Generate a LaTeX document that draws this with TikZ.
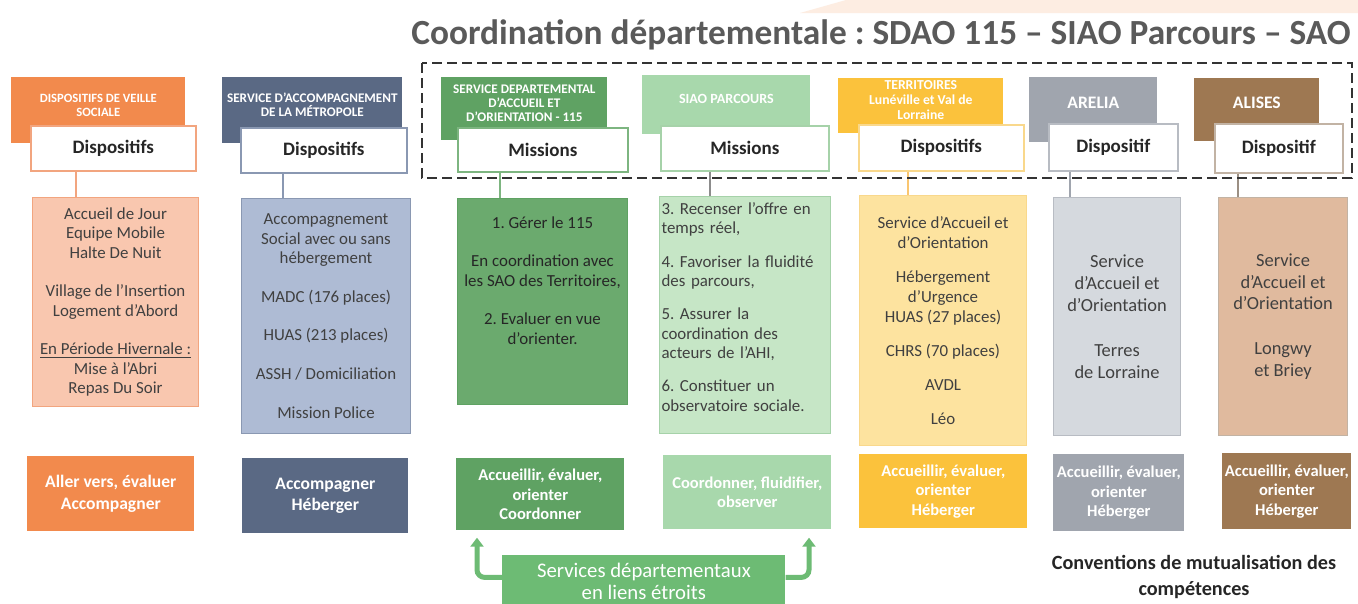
\documentclass[tikz,border=0pt]{standalone}
\usepackage{fontspec}
\setmainfont{Carlito}
\usetikzlibrary{positioning, calc, arrows.meta}
\frenchspacing

\definecolor{veilleOr}{HTML}{F28A4D}
\definecolor{veilleBd}{HTML}{F2A57F}
\definecolor{veilleFl}{HTML}{F9C7AF}
\definecolor{metroSl}{HTML}{5A6984}
\definecolor{metroBd}{HTML}{8A98B2}
\definecolor{metroFl}{HTML}{AEBBD4}
\definecolor{sdaoGr}{HTML}{5FA263}
\definecolor{sdaoBd}{HTML}{7DB580}
\definecolor{sdaoFl}{HTML}{6BAA6E}
\definecolor{siaoGr}{HTML}{A8D8AC}
\definecolor{siaoBd}{HTML}{A6D2A9}
\definecolor{siaoFl}{HTML}{C6E6C6}
\definecolor{terrYe}{HTML}{FBC23C}
\definecolor{terrBd}{HTML}{F9D88C}
\definecolor{terrFl}{HTML}{FDE39F}
\definecolor{areliaGy}{HTML}{A0A5AE}
\definecolor{areliaBd}{HTML}{B8BCC3}
\definecolor{areliaFl}{HTML}{D5D9DE}
\definecolor{alisesBr}{HTML}{9E7852}
\definecolor{alisesBd}{HTML}{C2B3A4}
\definecolor{alisesFl}{HTML}{E0BA9E}
\definecolor{linkGr}{HTML}{6DBB74}
\definecolor{titleGy}{HTML}{5A5A5A}
\definecolor{peachBg}{HTML}{FDEDE2}

\begin{document}
\begin{tikzpicture}[
        x=0.2mm, y=-0.2mm,
        head/.style={anchor=north west, inner sep=0pt, fill=#1},
        headtxt/.style={text=white, font=\bfseries\fontsize{7.2}{8}\selectfont, align=center, inner sep=0pt},
        tag/.style={anchor=north west, draw=#1, fill=white, line width=0.9pt, inner sep=0pt,
            font=\bfseries\fontsize{10.8}{13}\selectfont, text=black!85},
        body/.style 2 args={anchor=north west, draw=#1, fill=#2, line width=0.6pt, inner sep=0pt,
            font=\fontsize{9.6}{11}\selectfont, text=black!75, align=center},
        listtxt/.style={inner sep=0pt, font=\fontsize{9.6}{11}\selectfont, text=black!75},
        goal/.style={anchor=north west, fill=#1, inner sep=0pt, text=white,
            font=\bfseries\fontsize{9.4}{11}\selectfont, align=center},
        drop/.style={draw=#1, line width=0.6pt},
        linkarrow/.style={draw=linkGr, line width=1mm, rounded corners=1.5mm,
            -{Triangle[width=2.6mm, length=1.8mm]}},
        coordframe/.style={draw=black!80, line width=0.55mm, dash pattern=on 2mm off 1mm},
    ]
        \useasboundingbox[fill=white] (0,0) rectangle (1358,604);
        \fill[peachBg] (846,0) -- (1358,0) -- (1358,13) -- (800,13) -- cycle;

        % Title
        \node[text=titleGy, font=\bfseries\fontsize{20.1}{24}\selectfont] (title) at (881,35)
            {Coordination départementale : SDAO 115 – SIAO Parcours – SAO};

        % Headers
        \node[head=veilleOr, minimum width=34.8mm, minimum height=13.2mm] (vsHead) at (11,77) {};
        \node[head=metroSl, minimum width=36mm, minimum height=13.2mm] (samHead) at (222,77) {};
        \node[head=sdaoGr, minimum width=33.2mm, minimum height=12.6mm] (sdaoHead) at (441,77) {};
        \node[head=siaoGr, minimum width=33.6mm, minimum height=11.8mm] (siaoHead) at (642,75) {};
        \node[head=terrYe, minimum width=33mm, minimum height=11mm] (terrHead) at (838,78) {};
        \node[head=areliaGy, minimum width=25.6mm, minimum height=13mm] (areliaHead) at (1029,77) {};
        \node[head=alisesBr, minimum width=25mm, minimum height=12.6mm] (alisesHead) at (1194,78) {};

        \node[headtxt] (vsHeadTxt) at ($(vsHead.north)+(0,28)$) {DISPOSITIFS DE VEILLE\\SOCIALE};
        \node[headtxt, font=\bfseries\fontsize{7.5}{8}\selectfont] (samHeadTxt) at ($(samHead.north)+(0,28)$)
            {SERVICE D’ACCOMPAGNEMENT\\DE LA MÉTROPOLE};
        \node[headtxt, font=\bfseries\fontsize{7.5}{8}\selectfont] (sdaoHeadTxt) at ($(sdaoHead.north)+(0,26)$)
            {SERVICE DEPARTEMENTAL\\D’ACCUEIL ET\\D’ORIENTATION - 115};
        \node[headtxt, font=\bfseries\fontsize{8}{9}\selectfont] (siaoHeadTxt) at ($(siaoHead.north)+(0,24)$) {SIAO PARCOURS};
        \node[headtxt, font=\bfseries\fontsize{7.8}{8.5}\selectfont] (terrHeadTxt) at ($(terrHead.north)+(0,22)$)
            {TERRITOIRES\\Lunéville et Val de\\Lorraine};
        \node[headtxt, font=\bfseries\fontsize{10}{11}\selectfont] (areliaHeadTxt) at ($(areliaHead.north)+(0,26)$) {ARELIA};
        \node[headtxt, font=\bfseries\fontsize{10}{11}\selectfont] (alisesHeadTxt) at ($(alisesHead.north)+(0,25)$) {ALISES};

        % White tags
        \node[tag=veilleBd, minimum width=33mm, minimum height=9mm] (vsTag) at (30,125) {Dispositifs};
        \node[tag=metroBd, minimum width=33.2mm, minimum height=9mm] (samTag) at (240,127) {Dispositifs};
        \node[tag=sdaoBd, minimum width=34mm, minimum height=8.8mm] (sdaoTag) at (457,127) {Missions};
        \node[tag=siaoBd, minimum width=33.6mm, minimum height=9mm] (siaoTag) at (660,125) {Missions};
        \node[tag=terrBd, minimum width=33mm, minimum height=9.2mm] (terrTag) at (858,124) {Dispositifs};
        \node[tag=areliaBd, minimum width=25.8mm, minimum height=9.4mm] (areliaTag) at (1048,123) {Dispositif};
        \node[tag=alisesBd, minimum width=25.6mm, minimum height=9.8mm] (alisesTag) at (1214,123) {Dispositif};

        % Content boxes
        \node[body={veilleBd}{veilleFl}, minimum width=33.2mm, minimum height=41.8mm] (vsBody) at (32,197)
            {Accueil de Jour\\Equipe Mobile\\Halte De Nuit\\[11pt]Village de l’Insertion\\Logement d’Abord\\[11pt]
             \underline{En Période Hivernale :}\\Mise à l’Abri\\Repas Du Soir};
        \node[body={metroBd}{metroFl}, minimum width=33.8mm, minimum height=47mm] (samBody) at (241,198)
            {Accompagnement\\Social avec ou sans\\hébergement\\[11pt]MADC (176 places)\\[11pt]HUAS (213 places)\\[11pt]
             ASSH / Domiciliation\\[11pt]Mission Police};
        \node[body={sdaoGr}{sdaoFl}, minimum width=34mm, minimum height=41.2mm] (sdaoBody) at (457,198) {};
        \node[listtxt, align=center, text=black!85, below=3.6mm of sdaoBody.north] (sdaoList)
            {1. Gérer le 115\\[11pt]En coordination avec\\les SAO des Territoires,\\[11pt]2. Evaluer en vue\\d’orienter.};
        \node[body={siaoBd}{siaoFl}, minimum width=34.2mm, minimum height=47.4mm] (siaoBody) at (659,196) {};
        \node[listtxt, align=left, text width=33.4mm] (siaoList) at ($(siaoBody.center)+(0,-8)$)
            {3. Recenser l’offre en\\temps réel,\\[8pt]4. Favoriser la fluidité\\des parcours,\\[8pt]5. Assurer la\\
             coordination des\\acteurs de l’AHI,\\[8pt]6. Constituer un\\observatoire sociale.};
        \node[body={terrBd}{terrFl}, minimum width=33.4mm, minimum height=50mm, font=\fontsize{9.6}{11.3}\selectfont]
            (terrBody) at (859,195)
            {Service d’Accueil et\\d’Orientation\\[8pt]Hébergement\\d’Urgence\\HUAS (27 places)\\[8pt]
             CHRS (70 places)\\[8pt]AVDL\\[8pt]Léo};
        \node[body={areliaBd}{areliaFl}, minimum width=25.4mm, minimum height=47.6mm, font=\fontsize{10.5}{12.5}\selectfont]
            (areliaBody) at (1053,197)
            {Service\\d’Accueil et\\d’Orientation\\[13pt]Terres\\de Lorraine};
        \node[body={alisesBd}{alisesFl}, minimum width=25.8mm, minimum height=47.6mm, font=\fontsize{10.5}{12.5}\selectfont]
            (alisesBody) at (1218,197)
            {Service\\d’Accueil et\\d’Orientation\\[13pt]Longwy\\et Briey};

        % Drop lines
        \coordinate (vsDrop) at ($(vsTag.south west)+(46,0)$);
        \coordinate (samDrop) at ($(samTag.south west)+(43,0)$);
        \coordinate (sdaoDrop) at ($(sdaoTag.south west)+(43,0)$);
        \coordinate (siaoDrop) at ($(siaoTag.south west)+(50,0)$);
        \coordinate (terrDrop) at ($(terrTag.south west)+(50,0)$);
        \coordinate (areliaDrop) at ($(areliaTag.south west)+(22,0)$);
        \coordinate (alisesDrop) at ($(alisesTag.south west)+(24,0)$);
        \draw[drop=veilleBd] (vsDrop) -- (vsDrop |- vsBody.north);
        \draw[drop=metroBd] (samDrop) -- (samDrop |- samBody.north);
        \draw[drop=sdaoBd] (sdaoDrop) -- (sdaoDrop |- sdaoBody.north);
        \draw[drop=black!45] (siaoDrop) -- (siaoDrop |- siaoBody.north);
        \draw[drop=terrBd!80!orange] (terrDrop) -- (terrDrop |- terrBody.north);
        \draw[drop=areliaGy] (areliaDrop) -- (areliaDrop |- areliaBody.north);
        \draw[drop=alisesBd!80!black] (alisesDrop) -- (alisesDrop |- alisesBody.north);

        % Bottom row
        \node[goal=veilleOr, minimum width=33.4mm, minimum height=15mm, font=\bfseries\fontsize{10}{12}\selectfont]
            (vsGoal) at (27,456) {Aller vers, évaluer\\Accompagner};
        \node[goal=metroSl, minimum width=33.2mm, minimum height=15mm, font=\bfseries\fontsize{10}{12}\selectfont]
            (samGoal) at (242,458) {Accompagner\\Héberger};
        \node[goal=sdaoGr, minimum width=33.6mm, minimum height=14.4mm] (sdaoGoal) at (456,458)
            {Accueillir, évaluer,\\orienter\\Coordonner};
        \node[goal=siaoGr, minimum width=33.6mm, minimum height=14.8mm] (siaoGoal) at (663,455)
            {Coordonner, fluidifier,\\observer};
        \node[goal=terrYe, minimum width=33.6mm, minimum height=14.8mm] (terrGoal) at (859,454)
            {Accueillir, évaluer,\\orienter\\Héberger};
        \node[goal=areliaGy, minimum width=26.2mm, minimum height=15.4mm] (areliaGoal) at (1053,454)
            {Accueillir, évaluer,\\orienter\\Héberger};
        \node[goal=alisesBr, minimum width=25.8mm, minimum height=15.2mm] (alisesGoal) at (1222,453)
            {Accueillir, évaluer,\\orienter\\Héberger};

        % Services departementaux
        \node[anchor=north west, fill=linkGr, minimum width=56.6mm, minimum height=10.4mm, inner sep=0pt,
            text=white, align=center, font=\fontsize{11.8}{13}\selectfont] (svc) at (502,555)
            {Services départementaux\\en liens étroits};
        \coordinate (sdaoUp) at ($(sdaoGoal.south west)+(21,7)$);
        \coordinate (siaoUp) at ($(siaoGoal.south west)+(146,8)$);
        \draw[linkarrow] ([yshift=0.8mm]svc.west) -| (sdaoUp);
        \draw[linkarrow] ([yshift=0.8mm]svc.east) -| (siaoUp);

        \node[font=\bfseries\fontsize{11.5}{15}\selectfont, text=black!85, align=center] (mutu) at (1194,577)
            {Conventions de mutualisation des\\compétences};

        % Coordination frame
        \draw[coordframe] (422,63) rectangle (1352,178);
    \end{tikzpicture}
\end{document}
